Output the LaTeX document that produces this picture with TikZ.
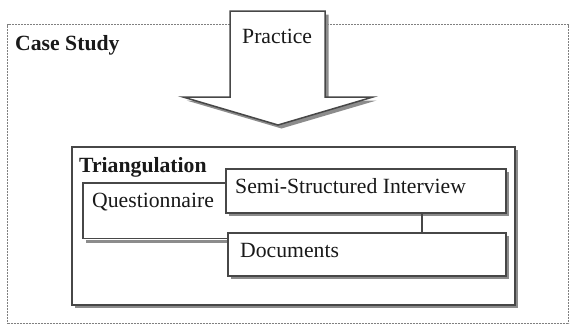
\documentclass[tikz,border=0pt]{standalone}
\usepackage{fontspec}
\setmainfont{Liberation Serif}
\usetikzlibrary{shadows,calc}
\begin{document}
\begin{tikzpicture}[x=1pt,y=-1pt,
  label/.style={font=\fontsize{21.7}{26}\selectfont, inner sep=0pt, anchor=base west, text=black!90},
  heading/.style={label, font=\fontsize{21.7}{26}\selectfont\bfseries},
  outline/.style={draw=black!72, line width=1.5pt},
  shade/.style={drop shadow={shadow xshift=3.5pt, shadow yshift=-3.5pt, fill=black!45, opacity=1}},
  panel/.style={outline, shade, fill=white, inner sep=0pt, anchor=north west},
  frame/.style={draw=black!50, dash pattern=on 0.8pt off 0.7pt, line width=1.2pt, inner sep=0pt, anchor=north west},
]
\useasboundingbox (0,0) rectangle (570,325);

% outer dotted frame
\node[frame, minimum width=561, minimum height=299] (case) at (7,24) {};
\node[heading] (casetitle) at (15,50) {Case Study};

% block arrow pointing down into the triangulation panel
\draw[outline, fill=white, shade]
  (230,11) coordinate (a1) -- (325,11) -- (325,97) -- (373,97)
  -- (278,125) coordinate (tip) -- (183,97) -- (230,97) -- cycle;
\node[label] (practice) at (242,43) {Practice};

% triangulation panel
\node[panel, minimum width=443, minimum height=158] (tri) at (71,146) {};
\node[heading] (trititle) at (79,172) {Triangulation};

% questionnaire box, partly hidden behind the two boxes on its right
\node[fill=white, inner sep=0pt, anchor=north west, minimum width=147, minimum height=55] (quest) at (83,183) {};
\draw[draw=black!45, line width=3pt]
  ([shift={(3,3)}]quest.south west) -- ([shift={(3,3)}]quest.south east);
\draw[outline] (quest.north east) -- (quest.north west) -- (quest.south west) -- (quest.south east);
\node[label] (questtext) at (92,207) {Questionnaire};

% interview and documents boxes
\node[panel, minimum width=280, minimum height=44] (semi) at (225,168) {};
\node[label] (semitext) at (235,193) {Semi-Structured Interview};

\node[panel, minimum width=278, minimum height=43] (docs) at (227,232) {};
\node[label] (docstext) at (240,257) {Documents};

% link between interview and documents
\coordinate (link) at ($(semi.south west)!0.7!(semi.south east)$);
\draw[outline] (link) -- (link |- docs.north);
\end{tikzpicture}
\end{document}
